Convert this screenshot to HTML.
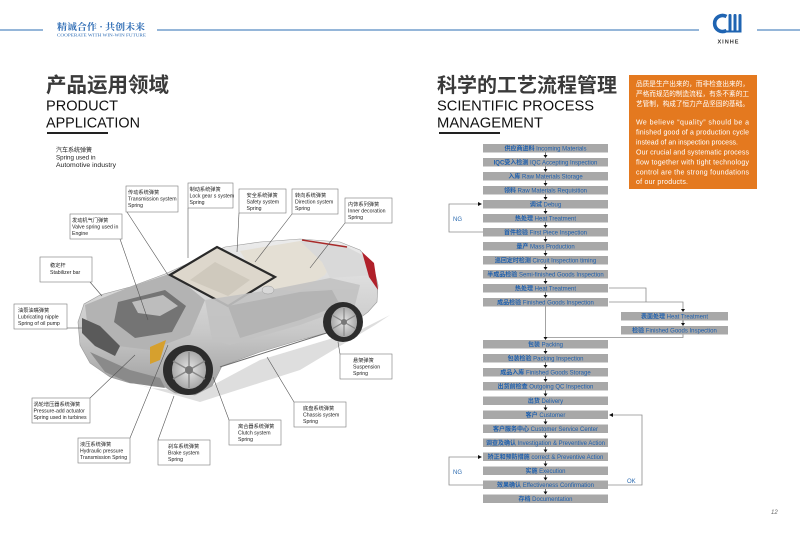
<!DOCTYPE html>
<html><head><meta charset="utf-8">
<style>
html,body{margin:0;padding:0;background:#fff;}
svg{display:block;}
text{font-family:"Liberation Sans","Noto Sans CJK SC",sans-serif;}
</style></head>
<body>
<svg width="800" height="547" viewBox="0 0 800 547" xmlns="http://www.w3.org/2000/svg">
<defs>
<linearGradient id="bodyg" x1="0" y1="0" x2="0" y2="1">
<stop offset="0" stop-color="#ececec"/><stop offset="0.6" stop-color="#c8c8c8"/><stop offset="1" stop-color="#9c9c9c"/>
</linearGradient>
<radialGradient id="rim" cx="0.5" cy="0.5" r="0.5">
<stop offset="0" stop-color="#e8e8e8"/><stop offset="1" stop-color="#a8a8a8"/>
</radialGradient>
</defs>

<!-- header -->
<line x1="0" y1="30" x2="43" y2="30" stroke="#2b6cb3" stroke-width="1"/>
<line x1="157" y1="30" x2="699" y2="30" stroke="#2b6cb3" stroke-width="1"/>
<line x1="757" y1="30" x2="800" y2="30" stroke="#2b6cb3" stroke-width="1"/>
<text x="57" y="30" font-size="9" font-weight="bold" fill="#2f6db5" textLength="88" lengthAdjust="spacingAndGlyphs" style='font-family:"Noto Serif CJK SC",serif'>精诚合作 · 共创未来</text>
<text x="57" y="36.5" font-size="4.6" fill="#2f6db5" textLength="89" lengthAdjust="spacingAndGlyphs" style='font-family:"Liberation Serif",serif'>COOPERATE WITH WIN-WIN FUTURE</text>
<!-- logo -->
<path d="M726.5,16.5 A8,8 0 1 0 726.5,30.5" fill="none" stroke="#1f64b2" stroke-width="3.6"/>
<rect x="728.5" y="14" width="3" height="18.5" rx="1.2" fill="#1f64b2"/>
<rect x="733.5" y="14" width="3" height="18.5" rx="1.2" fill="#1f64b2"/>
<rect x="738.5" y="14" width="3" height="18.5" rx="1.2" fill="#1f64b2"/>
<rect x="724" y="30.5" width="17.5" height="2" fill="#1f64b2"/>
<text x="728.5" y="43.5" font-size="5.6" font-weight="bold" fill="#333" text-anchor="middle" letter-spacing="1">XINHE</text>

<!-- left titles -->
<text x="46" y="92" font-size="20.5" font-weight="bold" fill="#3a3a3a">产品运用领域</text>
<text x="46" y="110.5" font-size="15" fill="#111" textLength="72" lengthAdjust="spacingAndGlyphs">PRODUCT</text>
<text x="46" y="127.5" font-size="15" fill="#111" textLength="94" lengthAdjust="spacingAndGlyphs">APPLICATION</text>
<rect x="47" y="132" width="61" height="2" fill="#222"/>

<text x="56" y="152" font-size="6" fill="#222">汽车系统弹簧</text>
<text x="56" y="159.5" font-size="6.2" fill="#222">Spring used in</text>
<text x="56" y="167" font-size="6.2" fill="#222" textLength="60" lengthAdjust="spacingAndGlyphs">Automotive industry</text>

<!-- right titles -->
<text x="437" y="92" font-size="20" font-weight="bold" fill="#3a3a3a" textLength="180" lengthAdjust="spacingAndGlyphs">科学的工艺流程管理</text>
<text x="437" y="110.5" font-size="15" fill="#111" textLength="157" lengthAdjust="spacingAndGlyphs">SCIENTIFIC PROCESS</text>
<text x="437" y="127.5" font-size="15" fill="#111" textLength="106" lengthAdjust="spacingAndGlyphs">MANAGEMENT</text>
<rect x="439" y="132" width="61" height="2" fill="#222"/>

<!-- orange box -->
<rect x="629" y="75" width="128" height="114" fill="#e4791f"/>
<g fill="#fff" font-size="6.6">
<text x="636" y="86" textLength="113" lengthAdjust="spacingAndGlyphs">品质是生产出来的，而非检查出来的，</text>
<text x="636" y="96" textLength="113" lengthAdjust="spacingAndGlyphs">严格而规范的制造流程，有条不紊的工</text>
<text x="636" y="106" textLength="113" lengthAdjust="spacingAndGlyphs">艺管制，构成了恒力产品坚固的基础。</text>
</g>
<g fill="#fff" font-size="7">
<text x="636" y="124.5" textLength="113" lengthAdjust="spacing">We believe “quality” should be a</text>
<text x="636" y="134.5" textLength="113" lengthAdjust="spacing">finished good of a production cycle</text>
<text x="636" y="144.5" textLength="102" lengthAdjust="spacing">instead of an inspection process.</text>
<text x="636" y="154.5" textLength="113" lengthAdjust="spacing">Our crucial and systematic process</text>
<text x="636" y="164.5" textLength="113" lengthAdjust="spacing">flow together with tight technology</text>
<text x="636" y="174.5" textLength="113" lengthAdjust="spacing">control are the strong foundations</text>
<text x="636" y="184" textLength="52" lengthAdjust="spacing">of our products.</text>
</g>

<!-- car -->
<path d="M95,372 L200,402 L300,370 L375,325 L390,315 L360,330 L260,360 L200,392 L150,388 Z" fill="#d6d6d6" opacity="0.8"/>
<path d="M78,322 L84,304 L100,295 L130,287 L165,274 L200,258 L225,247 L260,242 L300,239 L340,242 L360,250 L373,265 L378,285 L377,302 L368,312 L360,318 L330,332 L300,340 L260,352 L222,366 L212,386 L195,395 L175,393 L160,384 L130,383 L110,377 L90,363 L80,345 Z" fill="url(#bodyg)" stroke="#9a9a9a" stroke-width="0.6"/>
<path d="M85,305 L130,287 L172,273 L205,300 L190,335 L150,350 L110,345 L88,330 Z" fill="#b3b3b3"/>
<path d="M118,302 L165,290 L186,306 L172,332 L135,338 L114,322 Z" fill="#747474"/>
<path d="M132,302 L163,295 L178,306 L160,316 L138,313 Z" fill="#bdbdbd"/>
<path d="M82,318 L100,326 L120,346 L115,356 L95,346 L82,333 Z" fill="#5a5a5a"/>
<path d="M90,352 L130,370 L160,378 L165,388 L130,383 L105,372 Z" fill="#8a8a8a"/>
<path d="M240,251 L300,241 L342,246 L325,275 L298,292 L262,287 Z" fill="#e4dfd4"/>
<path d="M300,241 L345,246 L368,258 L374,275 L330,278 L322,262 Z" fill="#d9d9d9"/>
<path d="M170,275 L217,247 L275,277 L228,306 Z" fill="#ddd7cc" stroke="#2a2a2a" stroke-width="2.2"/>
<path d="M190,280 L215,262 L250,280 L228,296 Z" fill="#cfc9bd"/>
<path d="M205,300 L270,290 L330,278 L360,285 L355,305 L300,325 L230,345 L212,340 Z" fill="#c2c2c2" opacity="0.9"/>
<path d="M228,306 L300,292 L332,290 L340,305 L300,320 L240,338 Z" fill="#b4b4b4"/>
<line x1="220" y1="367" x2="336" y2="330" stroke="#6e6e6e" stroke-width="1"/>
<path d="M302,240 L347,247" stroke="#a82a2a" stroke-width="1.6" fill="none"/>
<path d="M362,252 L374,263 L378,290 L369,277 Z" fill="#b0202a"/>
<path d="M150,347 L166,340 L160,360 L150,364 Z" fill="#d6a02e"/>
<ellipse cx="268" cy="290" rx="6" ry="4" fill="#d8d8d8" stroke="#999" stroke-width="0.5"/>
<circle cx="343" cy="322" r="20" fill="#2c2c2c"/>
<ellipse cx="344" cy="322" rx="13" ry="15" fill="url(#rim)"/>
<g stroke="#888" stroke-width="1.2"><line x1="344" y1="308" x2="344" y2="336"/><line x1="332" y1="315" x2="356" y2="329"/><line x1="332" y1="329" x2="356" y2="315"/></g>
<circle cx="344" cy="322" r="3" fill="#777"/>
<circle cx="188" cy="370" r="25" fill="#2c2c2c"/>
<ellipse cx="189" cy="370" rx="17" ry="19" fill="url(#rim)"/>
<g stroke="#888" stroke-width="1.4"><line x1="189" y1="352" x2="189" y2="388"/><line x1="173" y1="361" x2="205" y2="379"/><line x1="173" y1="379" x2="205" y2="361"/></g>
<circle cx="189" cy="370" r="4" fill="#777"/>

<!-- leader lines -->
<g stroke="#555" stroke-width="0.6" fill="none">
<line x1="120" y1="239" x2="148" y2="320"/>
<line x1="127" y1="212" x2="168" y2="275"/>
<line x1="188" y1="208" x2="188" y2="258"/>
<line x1="239" y1="213" x2="237" y2="252"/>
<line x1="292" y1="214" x2="255" y2="262"/>
<line x1="345" y1="223" x2="310" y2="268"/>
<line x1="90" y1="282" x2="102" y2="296"/>
<line x1="67" y1="328" x2="82" y2="328"/>
<line x1="90" y1="398" x2="135" y2="355"/>
<line x1="130" y1="438" x2="168" y2="345"/>
<line x1="158" y1="440" x2="174" y2="396"/>
<line x1="229" y1="420" x2="213" y2="377"/>
<line x1="294" y1="402" x2="267" y2="357"/>
<line x1="340" y1="354" x2="338" y2="342"/>
</g>

<!-- label boxes -->
<g fill="#fff" stroke="#7a7a7a" stroke-width="0.6">
<rect x="70" y="214" width="52" height="25"/>
<rect x="126" y="186" width="52" height="26"/>
<rect x="188" y="183" width="45" height="25"/>
<rect x="239" y="189" width="47" height="24"/>
<rect x="292" y="189" width="46" height="25"/>
<rect x="345" y="198" width="47" height="25"/>
<rect x="40" y="257" width="52" height="25"/>
<rect x="14" y="304" width="53" height="25"/>
<rect x="32" y="398" width="58" height="25"/>
<rect x="78" y="438" width="52" height="25"/>
<rect x="158" y="440" width="52" height="25"/>
<rect x="229" y="420" width="52" height="25"/>
<rect x="294" y="402" width="52" height="25"/>
<rect x="340" y="354" width="52" height="25"/>
</g>
<g fill="#222" font-size="5.2">
<text x="72" y="222">发动机气门弹簧</text><text x="72" y="228.5">Valve spring used in</text><text x="72" y="235">Engine</text>
<text x="128" y="194">传动系统弹簧</text><text x="128" y="200.5">Transmission system</text><text x="128" y="207">Spring</text>
<text x="189.5" y="191">制动系统弹簧</text><text x="189.5" y="197.5">Lock gear s system</text><text x="189.5" y="204">Spring</text>
<text x="246.5" y="197">安全系统弹簧</text><text x="246.5" y="203.5">Safety system</text><text x="246.5" y="210">Spring</text>
<text x="295" y="197">转向系统弹簧</text><text x="295" y="203.5">Direction system</text><text x="295" y="210">Spring</text>
<text x="348" y="206">内饰系列弹簧</text><text x="348" y="212.5">Inner decoration</text><text x="348" y="219">Spring</text>
<text x="50" y="267">稳定杆</text><text x="50" y="274">Stabilizer bar</text>
<text x="18" y="312">油泵油嘴弹簧</text><text x="18" y="318.5">Lubricating nipple</text><text x="18" y="325">Spring of oil pump</text>
<text x="33.5" y="406">涡轮增压器系统弹簧</text><text x="33.5" y="412.5">Pressure-add actuator</text><text x="33.5" y="419">Spring used in turbines</text>
<text x="80" y="446">液压系统弹簧</text><text x="80" y="452.5">Hydraulic pressure</text><text x="80" y="459">Transmission Spring</text>
<text x="168" y="448">刹车系统弹簧</text><text x="168" y="454.5">Brake system</text><text x="168" y="461">Spring</text>
<text x="238" y="428">离合器系统弹簧</text><text x="238" y="434.5">Clutch system</text><text x="238" y="441">Spring</text>
<text x="303" y="410">底盘系统弹簧</text><text x="303" y="416.5">Chassis system</text><text x="303" y="423">Spring</text>
<text x="353" y="362">悬架弹簧</text><text x="353" y="368.5">Suspension</text><text x="353" y="375">Spring</text>
</g>

<!-- flowchart connectors (gray) -->
<g stroke="#8c8c8c" stroke-width="0.8" fill="none">
<polyline points="483,232 449,232 449,204 480,204"/>
<polyline points="483,485 449,485 449,457 480,457"/>
<polyline points="608,485 642,485 642,415 612,415"/>
<polyline points="609,288 646,288 646,302"/>
<polyline points="609,302 683,302 683,309"/>
<polyline points="683,334.5 683,337.5 545.5,337.5"/>
<line x1="545.5" y1="306" x2="545.5" y2="337"/>
</g>
<g fill="#111">
<polygon points="478,202 478,206 482,204"/>
<polygon points="478,455 478,459 482,457"/>
<polygon points="613,413 613,417 609,415"/>
<polygon points="681,309 685,309 683,312"/>
<polygon points="681,323 685,323 683,326"/>
<polygon points="543.5,337 547.5,337 545.5,340"/>
</g>
<g fill="#2a6ab0" font-size="6">
<text x="453" y="221">NG</text>
<text x="453" y="474">NG</text>
<text x="627" y="483">OK</text>
</g>

<!-- flow boxes -->
<g id="flow" font-size="6" fill="#1d5fae" text-anchor="middle">
<rect x="483" y="144" width="125" height="8.5" fill="#a8a8a8"/><text x="545.5" y="150.3"><tspan font-weight="bold">供应商进料</tspan>  Incoming Materials</text>
<rect x="483" y="158" width="125" height="8.5" fill="#a8a8a8"/><text x="545.5" y="164.3"><tspan font-weight="bold">IQC受入检测</tspan>  IQC Accepting Inspection</text>
<rect x="483" y="172" width="125" height="8.5" fill="#a8a8a8"/><text x="545.5" y="178.3"><tspan font-weight="bold">入库</tspan>  Raw Materials Storage</text>
<rect x="483" y="186" width="125" height="8.5" fill="#a8a8a8"/><text x="545.5" y="192.3"><tspan font-weight="bold">领料</tspan>  Raw Materials Requisition</text>
<rect x="483" y="200" width="125" height="8.5" fill="#a8a8a8"/><text x="545.5" y="206.3"><tspan font-weight="bold">调试</tspan>  Debug</text>
<rect x="483" y="214" width="125" height="8.5" fill="#a8a8a8"/><text x="545.5" y="220.3"><tspan font-weight="bold">热处理</tspan>  Heat Treatment</text>
<rect x="483" y="228" width="125" height="8.5" fill="#a8a8a8"/><text x="545.5" y="234.3"><tspan font-weight="bold">首件检验</tspan>  First Piece Inspection</text>
<rect x="483" y="242" width="125" height="8.5" fill="#a8a8a8"/><text x="545.5" y="248.3"><tspan font-weight="bold">量产</tspan>  Mass Production</text>
<rect x="483" y="256" width="125" height="8.5" fill="#a8a8a8"/><text x="545.5" y="262.3"><tspan font-weight="bold">巡回定时检测</tspan>  Circuit Inspection timing</text>
<rect x="483" y="270" width="125" height="8.5" fill="#a8a8a8"/><text x="545.5" y="276.3"><tspan font-weight="bold">半成品检验</tspan>  Semi-finished Goods Inspection</text>
<rect x="483" y="284" width="125" height="8.5" fill="#a8a8a8"/><text x="545.5" y="290.3"><tspan font-weight="bold">热处理</tspan>  Heat Treatment</text>
<rect x="483" y="298" width="125" height="8.5" fill="#a8a8a8"/><text x="545.5" y="304.3"><tspan font-weight="bold">成品检验</tspan>  Finished Goods Inspection</text>
<rect x="621" y="312" width="107" height="8.5" fill="#a8a8a8"/><text x="674.5" y="318.3"><tspan font-weight="bold">表面处理</tspan>  Heat Treatment</text>
<rect x="621" y="326" width="107" height="8.5" fill="#a8a8a8"/><text x="674.5" y="332.3"><tspan font-weight="bold">检验</tspan>  Finished Goods Inspection</text>
<rect x="483" y="340" width="125" height="8.5" fill="#a8a8a8"/><text x="545.5" y="346.3"><tspan font-weight="bold">包装</tspan>  Packing</text>
<rect x="483" y="354" width="125" height="8.5" fill="#a8a8a8"/><text x="545.5" y="360.3"><tspan font-weight="bold">包装检验</tspan>  Packing Inspection</text>
<rect x="483" y="368" width="125" height="8.5" fill="#a8a8a8"/><text x="545.5" y="374.3"><tspan font-weight="bold">成品入库</tspan>  Finished Goods Storage</text>
<rect x="483" y="382" width="125" height="8.5" fill="#a8a8a8"/><text x="545.5" y="388.3"><tspan font-weight="bold">出货前检查</tspan>  Outgoing QC Inspection</text>
<rect x="483" y="396.5" width="125" height="8.5" fill="#a8a8a8"/><text x="545.5" y="402.8"><tspan font-weight="bold">出货</tspan>  Delivery</text>
<rect x="483" y="410.5" width="125" height="8.5" fill="#a8a8a8"/><text x="545.5" y="416.8"><tspan font-weight="bold">客户</tspan>  Customer</text>
<rect x="483" y="424.5" width="125" height="8.5" fill="#a8a8a8"/><text x="545.5" y="430.8"><tspan font-weight="bold">客户服务中心</tspan>  Customer Service Center</text>
<rect x="483" y="438.5" width="125" height="8.5" fill="#a8a8a8"/><text x="545.5" y="444.8"><tspan font-weight="bold">调查及确认</tspan>  Investigation &amp; Preventive Action</text>
<rect x="483" y="452.5" width="125" height="8.5" fill="#a8a8a8"/><text x="545.5" y="458.8"><tspan font-weight="bold">矫正和预防措施</tspan>  correct &amp; Preventive Action</text>
<rect x="483" y="466.5" width="125" height="8.5" fill="#a8a8a8"/><text x="545.5" y="472.8"><tspan font-weight="bold">实施</tspan>  Execution</text>
<rect x="483" y="480.5" width="125" height="8.5" fill="#a8a8a8"/><text x="545.5" y="486.8"><tspan font-weight="bold">效果确认</tspan>  Effectiveness Confirmation</text>
<rect x="483" y="494.5" width="125" height="8.5" fill="#a8a8a8"/><text x="545.5" y="500.8"><tspan font-weight="bold">存档</tspan>  Documentation</text>
</g>

<!-- small black arrows between main boxes -->
<g stroke="#111" stroke-width="0.6">
<line x1="545.5" y1="152.5" x2="545.5" y2="156"/><line x1="545.5" y1="166.5" x2="545.5" y2="170"/>
<line x1="545.5" y1="180.5" x2="545.5" y2="184"/><line x1="545.5" y1="194.5" x2="545.5" y2="198"/>
<line x1="545.5" y1="208.5" x2="545.5" y2="212"/><line x1="545.5" y1="222.5" x2="545.5" y2="226"/>
<line x1="545.5" y1="236.5" x2="545.5" y2="240"/><line x1="545.5" y1="250.5" x2="545.5" y2="254"/>
<line x1="545.5" y1="264.5" x2="545.5" y2="268"/><line x1="545.5" y1="278.5" x2="545.5" y2="282"/>
<line x1="545.5" y1="292.5" x2="545.5" y2="296"/>
<line x1="545.5" y1="348.5" x2="545.5" y2="352"/><line x1="545.5" y1="362.5" x2="545.5" y2="366"/>
<line x1="545.5" y1="376.5" x2="545.5" y2="380"/><line x1="545.5" y1="390.5" x2="545.5" y2="394.5"/>
<line x1="545.5" y1="405" x2="545.5" y2="408.5"/><line x1="545.5" y1="419" x2="545.5" y2="422.5"/>
<line x1="545.5" y1="433" x2="545.5" y2="436.5"/><line x1="545.5" y1="447" x2="545.5" y2="450.5"/>
<line x1="545.5" y1="461" x2="545.5" y2="464.5"/><line x1="545.5" y1="475" x2="545.5" y2="478.5"/>
<line x1="545.5" y1="489" x2="545.5" y2="492.5"/>
<line x1="683" y1="320.5" x2="683" y2="323"/>
</g>
<g fill="#111">
<polygon points="543.5,155 547.5,155 545.5,158"/><polygon points="543.5,169 547.5,169 545.5,172"/>
<polygon points="543.5,183 547.5,183 545.5,186"/><polygon points="543.5,197 547.5,197 545.5,200"/>
<polygon points="543.5,211 547.5,211 545.5,214"/><polygon points="543.5,225 547.5,225 545.5,228"/>
<polygon points="543.5,239 547.5,239 545.5,242"/><polygon points="543.5,253 547.5,253 545.5,256"/>
<polygon points="543.5,267 547.5,267 545.5,270"/><polygon points="543.5,281 547.5,281 545.5,284"/>
<polygon points="543.5,295 547.5,295 545.5,298"/>
<polygon points="543.5,351 547.5,351 545.5,354"/><polygon points="543.5,365 547.5,365 545.5,368"/>
<polygon points="543.5,379 547.5,379 545.5,382"/><polygon points="543.5,393.5 547.5,393.5 545.5,396.5"/>
<polygon points="543.5,407.5 547.5,407.5 545.5,410.5"/><polygon points="543.5,421.5 547.5,421.5 545.5,424.5"/>
<polygon points="543.5,435.5 547.5,435.5 545.5,438.5"/><polygon points="543.5,449.5 547.5,449.5 545.5,452.5"/>
<polygon points="543.5,463.5 547.5,463.5 545.5,466.5"/><polygon points="543.5,477.5 547.5,477.5 545.5,480.5"/>
<polygon points="543.5,491.5 547.5,491.5 545.5,494.5"/>
</g>

<text x="771" y="514" font-size="6" font-style="italic" fill="#666">12</text>
</svg>
</body></html>
